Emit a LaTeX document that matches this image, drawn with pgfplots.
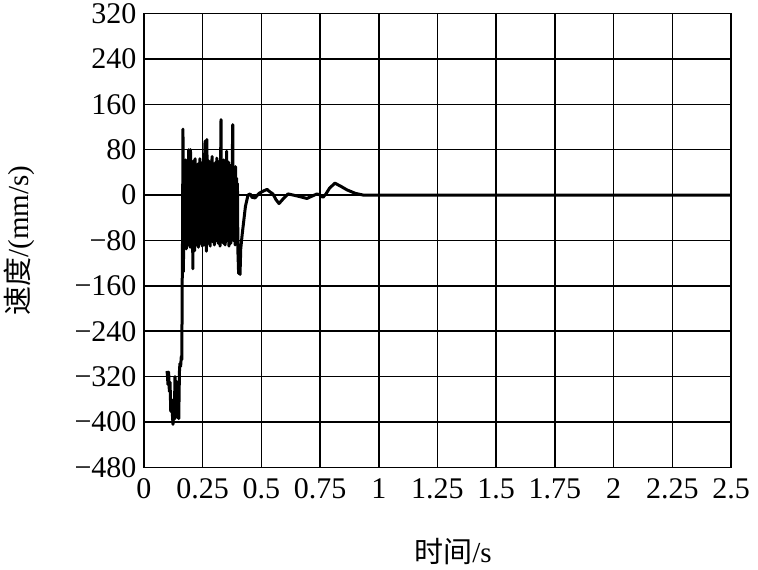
\documentclass[border=0pt]{standalone}
\usepackage{pgfplots}
\pgfplotsset{compat=1.18}
\usepackage{fontspec}
\setmainfont{Liberation Serif}
\newfontfamily\cjk{Noto Sans CJK SC}
\begin{document}
\begin{tikzpicture}
\begin{axis}[
  scale only axis,
  width=587pt, height=454pt,
  xmin=0, xmax=2.5, ymin=-480, ymax=320,
  xtick={0,0.25,0.5,0.75,1,1.25,1.5,1.75,2,2.25,2.5},
  xticklabels={0,0.25,0.5,0.75,1,1.25,1.5,1.75,2,2.25,2.5},
  ytick={-480,-400,-320,-240,-160,-80,0,80,160,240,320},
  yticklabels={−480,−400,−320,−240,−160,−80,0,80,160,240,320},
  major tick length=0pt,
  grid=major,
  major grid style={black, line width=1.5pt},
  axis line style={black, line width=1.5pt},
  tick label style={font=\fontsize{30}{34}\selectfont},
  xticklabel style={yshift=-8pt},
  yticklabel style={xshift=-4pt},
  xlabel={{\cjk 时间}/s},
  ylabel={{\cjk 速度}/(mm/s)},
  every axis x label/.style={at={(axis description cs:0.5264,-0.185)}, anchor=center, font=\fontsize{29}{34}\selectfont},
  every axis y label/.style={at={(axis description cs:-0.2129,0.5)}, anchor=center, rotate=90, font=\fontsize{29}{34}\selectfont},
]
\addplot[black, line width=3pt, line join=round] table {
t y
0.098 -310
0.100 -318
0.102 -334
0.105 -312
0.108 -346
0.111 -330
0.114 -381
0.117 -360
0.1235 -404
0.126 -380
0.129 -395
0.132 -320
0.135 -390
0.138 -328
0.141 -392
0.145 -330
0.148 -394
0.151 -311
0.153 -297
0.156 -302
0.159 -284
0.161 -290
0.1625 -180
0.1635 -99
0.164 -85
0.166 116
0.168 -135
0.170 55
0.172 -90
0.174 35
0.176 -75
0.178 62
0.180 -95
0.182 28
0.184 -70
0.186 50
0.188 -88
0.190 80
0.192 -62
0.194 45
0.196 -92
0.198 80
0.200 -70
0.202 58
0.204 -85
0.206 25
0.208 -130
0.210 60
0.212 -80
0.214 38
0.216 -98
0.218 64
0.220 -75
0.222 50
0.224 -88
0.226 35
0.228 -60
0.230 55
0.232 -92
0.234 40
0.236 -78
0.238 64
0.240 -85
0.242 48
0.244 -65
0.246 30
0.248 -90
0.250 58
0.252 -72
0.254 42
0.256 -88
0.258 62
0.260 95
0.262 -80
0.264 50
0.266 -99
0.268 98
0.270 -70
0.272 40
0.274 -85
0.276 60
0.278 -62
0.280 35
0.282 -90
0.284 55
0.286 -75
0.288 45
0.290 68
0.292 -82
0.294 30
0.296 -68
0.298 55
0.300 -88
0.302 42
0.304 -60
0.306 58
0.308 -80
0.310 65
0.312 -72
0.314 38
0.316 -85
0.318 50
0.320 -65
0.322 60
0.324 -90
0.326 45
0.328 133
0.330 -78
0.332 55
0.334 -62
0.336 40
0.338 -85
0.340 62
0.342 -70
0.344 30
0.346 -88
0.348 50
0.350 -60
0.352 77
0.354 -80
0.356 45
0.358 -65
0.360 58
0.362 -90
0.364 35
0.366 -72
0.368 52
0.370 -85
0.372 40
0.374 -60
0.376 60
0.378 124
0.380 -80
0.382 45
0.384 -70
0.386 38
0.388 -88
0.390 50
0.392 -65
0.394 30
0.396 -80
0.398 20
0.400 -100
0.403 -138
0.406 -115
0.409 -140
0.412 -95
0.418 -70
0.425 -45
0.432 -20
0.443 0
0.452 2
0.460 -4
0.473 -5
0.490 3
0.503 6
0.524 10
0.535 6
0.549 2
0.562 -8
0.575 -15
0.590 -8
0.613 2
0.635 0
0.656 -2
0.675 -4
0.694 -6
0.715 -2
0.737 2
0.750 0
0.762 -4
0.775 2
0.790 12
0.813 21
0.840 15
0.865 9
0.900 3
0.933 0
2.5 0
};
\end{axis}
\path (-144pt,-102pt) rectangle (614pt,466pt);
\end{tikzpicture}
\end{document}
